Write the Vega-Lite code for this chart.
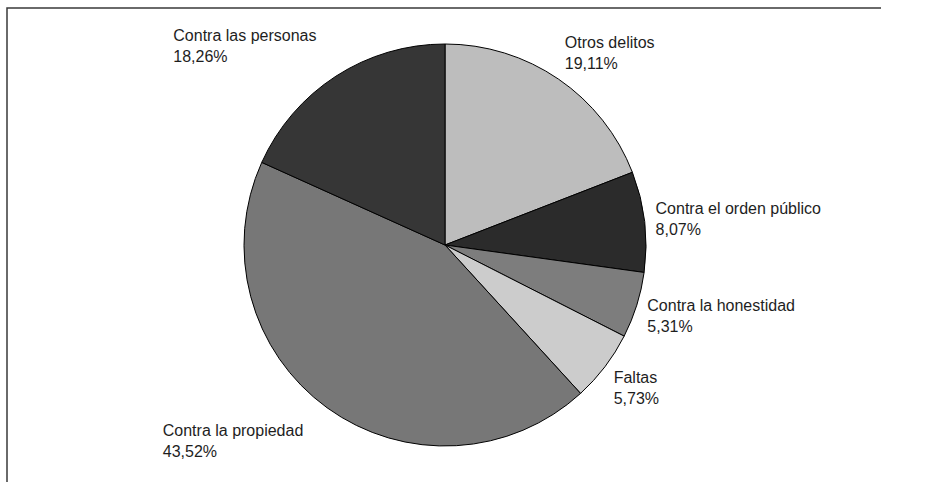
{
  "$schema": "https://vega.github.io/schema/vega-lite/v6.json",
  "width": 876,
  "height": 474,
  "autosize": {"type": "none"},
  "padding": {"left": 7, "top": 8, "right": 0, "bottom": 0},
  "background": "white",
  "view": {"stroke": "#3a3a3a", "strokeWidth": 1.5, "strokeDash": [874, 1352, 474]},
  "data": {
    "values": [
      {"idx": 1, "cat": "Otros delitos", "value": 19.11},
      {"idx": 2, "cat": "Contra el orden público", "value": 8.07},
      {"idx": 3, "cat": "Contra la honestidad", "value": 5.31},
      {"idx": 4, "cat": "Faltas", "value": 5.73},
      {"idx": 5, "cat": "Contra la propiedad", "value": 43.52},
      {"idx": 6, "cat": "Contra las personas", "value": 18.26}
    ]
  },
  "transform": [
    {"calculate": "datum.cat + '\\n' + replace(format(datum.value, '.2f'), '.', ',') + '%'", "as": "label"}
  ],
  "layer": [
    {
      "mark": {"type": "arc", "outerRadius": 201, "stroke": "#000000", "strokeWidth": 1},
      "encoding": {
        "theta": {"field": "value", "type": "quantitative", "stack": true},
        "order": {"field": "idx", "type": "quantitative"},
        "color": {
          "field": "cat",
          "type": "nominal",
          "legend": null,
          "scale": {
            "domain": ["Otros delitos", "Contra el orden público", "Contra la honestidad", "Faltas", "Contra la propiedad", "Contra las personas"],
            "range": ["#bdbdbd", "#2b2b2b", "#7d7d7d", "#cccccc", "#777777", "#363636"]
          }
        }
      }
    },
    {
      "mark": {
        "type": "text",
        "radius": {"expr": "(datum.value_start + datum.value_end) / 2 > 50 ? 239 : 212"},
        "dx": {"expr": "(datum.value_start + datum.value_end) / 2 > 50 ? -142 : 0"},
        "dy": {"expr": "(datum.value_start + datum.value_end) / 2 > 50 ? -8 : -8.5 - 22 * cos(PI * (datum.value_start + datum.value_end) / 100)"},
        "align": "left",
        "baseline": "middle",
        "lineBreak": "\n",
        "font": "Liberation Sans",
        "fontSize": 16,
        "lineHeight": 21,
        "fill": "#1e1e1e"
      },
      "encoding": {
        "theta": {"field": "value", "type": "quantitative", "stack": true},
        "order": {"field": "idx", "type": "quantitative"},
        "text": {"field": "label", "type": "nominal"}
      }
    }
  ]
}
